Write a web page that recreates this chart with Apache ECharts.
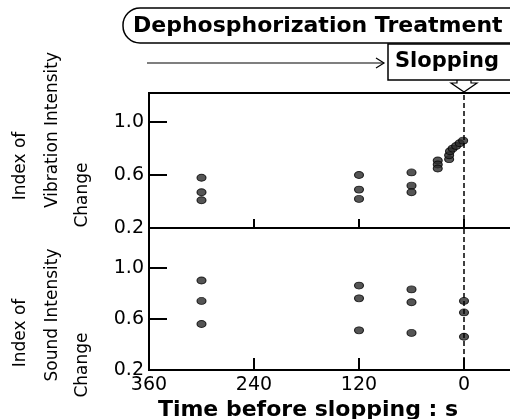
<!DOCTYPE html>
<html>
<head>
<meta charset="utf-8">
<script src="https://cdn.jsdelivr.net/npm/echarts@6/dist/echarts.min.js"></script>
<style>html,body{margin:0;padding:0;background:#fff;overflow:hidden;width:510px;height:419px;}#c{width:590px;height:419px;}</style>
</head>
<body>
<div id="c"></div>
<script>
// ---- data ----
const xTickLabels = ['360', '240', '120', '0'];
const yTickLabels = ['0.2', '0.6', '1.0'];
const vibTime  = [300, 300, 300, 120, 120, 120, 60, 60, 60, 30, 30, 30, 17, 17, 16, 13, 9, 5, 1];
const vibIndex = [0.58, 0.47, 0.41, 0.60, 0.49, 0.42, 0.62, 0.52, 0.47, 0.71, 0.68, 0.65, 0.72, 0.75, 0.78, 0.80, 0.82, 0.84, 0.86];
const sndTime  = [300, 300, 300, 120, 120, 120, 60, 60, 60, 0, 0, 0];
const sndIndex = [0.90, 0.74, 0.56, 0.86, 0.76, 0.51, 0.83, 0.73, 0.49, 0.74, 0.65, 0.46];
const slopTime = 0;

const FONT = '"DejaVu Sans", sans-serif';
const chart = echarts.init(document.getElementById('c'), null, {renderer: 'canvas'});

function pairs(xs, ys) { return xs.map((x, i) => [x, ys[i]]); }
function yFmt(v) {
  const s = (Math.round(v * 10) / 10).toFixed(1);
  return (yTickLabels.includes(s) && Math.abs(v - parseFloat(s)) < 1e-6) ? s : '';
}
function xFmt(v) { const s = String(v); return xTickLabels.includes(s) ? s : ''; }

const markerStyle = {color: '#2b2b2b', borderColor: '#000', borderWidth: 1};
const dashLine = {
  silent: true, symbol: 'none', label: {show: false},
  lineStyle: {color: '#000', type: [5, 3], width: 1.5},
  data: [{xAxis: slopTime}]
};

function xAxisCfg(gridIndex, showLabel, tickLen) {
  return {
    type: 'value', gridIndex: gridIndex, inverse: true, min: -120, max: 360, interval: 120,
    axisLine: {show: true, onZero: false, lineStyle: {color: '#000', width: 2}},
    axisTick: {show: true, inside: true, length: tickLen, lineStyle: {color: '#000', width: 2}},
    axisLabel: {show: showLabel, formatter: xFmt, color: '#000', fontSize: 19, fontFamily: FONT, margin: 6},
    splitLine: {show: false}
  };
}
function yAxisCfg(gridIndex, max) {
  return {
    type: 'value', gridIndex: gridIndex, min: 0.2, max: max, interval: 0.4,
    axisLine: {show: true, onZero: false, lineStyle: {color: '#000', width: 2}},
    axisTick: {show: true, inside: true, length: 18, lineStyle: {color: '#000', width: 2}},
    axisLabel: {formatter: yFmt, color: '#000', fontSize: 19, fontFamily: FONT, margin: 5},
    splitLine: {show: false}
  };
}

function vtext(txt, x, y, size, bold) {
  return {
    type: 'text', x: x, y: y, rotation: Math.PI / 2,
    style: {text: txt, fill: '#000', font: (bold ? 'bold ' : '') + size + 'px ' + FONT,
      align: 'center', verticalAlign: 'middle', textAlign: 'center', textVerticalAlign: 'middle'}
  };
}
function htext(txt, x, y, size, bold, align) {
  return {
    type: 'text', x: x, y: y,
    style: {text: txt, fill: '#000', font: (bold ? 'bold ' : '') + size + 'px ' + FONT,
      align: align, verticalAlign: 'middle', textAlign: align, textVerticalAlign: 'middle'}
  };
}

chart.setOption({
  backgroundColor: '#fff',
  animation: false,
  grid: [
    {left: 149, top: 93, width: 420, height: 135, show: true, borderColor: '#000', borderWidth: 2, backgroundColor: 'transparent'},
    {left: 149, top: 228, width: 420, height: 142, show: true, borderColor: '#000', borderWidth: 2, backgroundColor: 'transparent'}
  ],
  xAxis: [xAxisCfg(0, false, 9), xAxisCfg(1, true, 12)],
  yAxis: [yAxisCfg(0, 1.22), yAxisCfg(1, 1.31)],
  series: [
    {type: 'scatter', xAxisIndex: 0, yAxisIndex: 0, data: pairs(vibTime, vibIndex),
      symbol: 'circle', symbolSize: [9, 7], itemStyle: markerStyle, markLine: dashLine},
    {type: 'scatter', xAxisIndex: 1, yAxisIndex: 1, data: pairs(sndTime, sndIndex),
      symbol: 'circle', symbolSize: [9, 7], itemStyle: markerStyle, markLine: dashLine}
  ],
  graphic: [
    {type: 'rect', shape: {x: 123, y: 8, width: 430, height: 35, r: 17},
      style: {fill: 'none', stroke: '#000', lineWidth: 1.5}},
    htext('Dephosphorization Treatment', 133, 26, 22, true, 'left'),
    {type: 'polyline', shape: {points: [[147, 63], [384, 63]]}, style: {stroke: '#000', lineWidth: 1.2, fill: 'none'}},
    {type: 'polyline', shape: {points: [[376, 58], [384, 63], [376, 68]]}, style: {stroke: '#000', lineWidth: 1.2, fill: 'none'}},
    {type: 'rect', shape: {x: 388, y: 44, width: 160, height: 36},
      style: {fill: 'none', stroke: '#000', lineWidth: 1.5}},
    htext('Slopping', 395, 62, 21, true, 'left'),
    {type: 'polyline', shape: {points: [[457, 80], [457, 83], [451, 83], [464, 92], [477, 83], [471, 83], [471, 80]]},
      style: {stroke: '#000', lineWidth: 1.2, fill: 'none'}},
    vtext('Index of', 21, 166, 17, false),
    vtext('Vibration Intensity', 53, 130, 17, false),
    vtext('Change', 83, 195, 17, false),
    vtext('Index of', 21, 333, 17, false),
    vtext('Sound Intensity', 53, 315, 17, false),
    vtext('Change', 83, 365, 17, false),
    htext('Time before slopping : s', 308, 410, 22, true, 'center')
  ]
});
</script>
</body>
</html>
